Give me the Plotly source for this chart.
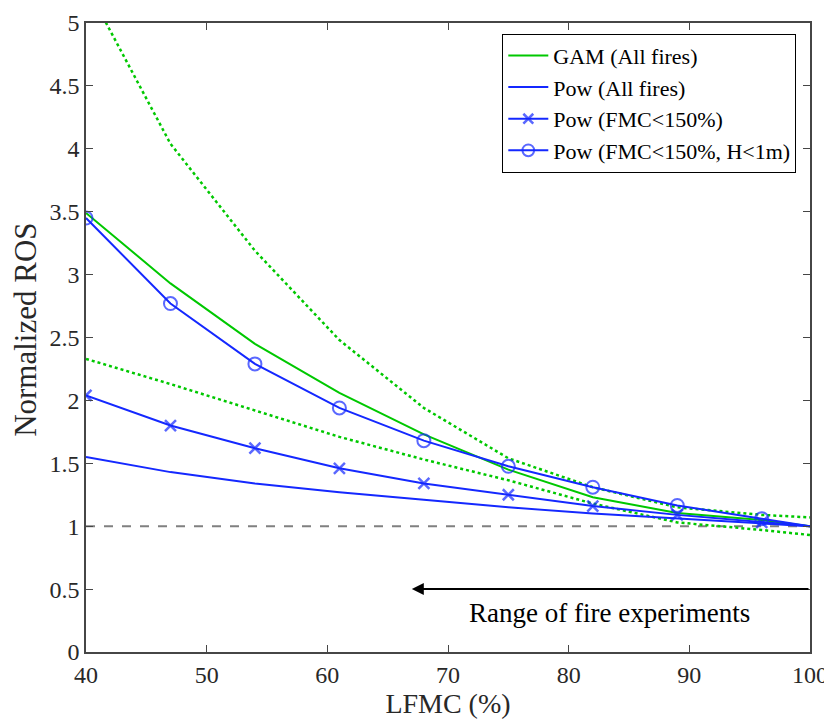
import plotly.graph_objects as go

lfmc = [40, 47, 54, 61, 68, 75, 82, 89, 96, 100]
gam_all = [3.49, 2.93, 2.45, 2.06, 1.73, 1.45, 1.23, 1.105, 1.05, 1.0]
gam_upper = [5.3, 4.04, 3.19, 2.48, 1.94, 1.54, 1.31, 1.15, 1.09, 1.07]
gam_lower = [2.33, 2.13, 1.92, 1.71, 1.53, 1.365, 1.18, 1.03, 0.97, 0.93]
pow_all = [1.55, 1.43, 1.34, 1.27, 1.21, 1.15, 1.10, 1.06, 1.02, 1.0]
pow_fmc150 = [2.04, 1.80, 1.62, 1.46, 1.34, 1.25, 1.16, 1.09, 1.03, 1.0]
pow_fmc150_h1 = [3.45, 2.77, 2.29, 1.94, 1.68, 1.476, 1.31, 1.165, 1.06, 1.0]

ref_x = [40, 100]
ref_y = [1, 1]
arrow_start, arrow_end, arrow_y = 100, 67, 0.5
note_text = "Range of fire experiments"
note_x, note_y = 83.4, 0.31

GREEN = "rgb(0,200,0)"
BLUE = "rgb(20,40,255)"
FONT = "Liberation Serif"

msize_o = [13] * 9 + [0]
msize_x = [11] * 9 + [0]

fig = go.Figure()
fig.add_trace(go.Scatter(x=ref_x, y=ref_y, mode="lines", showlegend=False,
                         line=dict(color="rgb(128,128,128)", width=2, dash="dash")))
fig.add_trace(go.Scatter(x=lfmc, y=gam_upper, mode="lines", showlegend=False,
                         line=dict(color=GREEN, width=2.5, dash="dot")))
fig.add_trace(go.Scatter(x=lfmc, y=gam_lower, mode="lines", showlegend=False,
                         line=dict(color=GREEN, width=2.5, dash="dot")))
fig.add_trace(go.Scatter(x=lfmc, y=gam_all, mode="lines", name="GAM (All fires)",
                         line=dict(color=GREEN, width=2)))
fig.add_trace(go.Scatter(x=lfmc, y=pow_all, mode="lines", name="Pow (All fires)",
                         line=dict(color=BLUE, width=2)))
fig.add_trace(go.Scatter(x=lfmc, y=pow_fmc150, mode="lines+markers", name="Pow (FMC<150%)",
                         line=dict(color=BLUE, width=2),
                         marker=dict(symbol="x-thin-open", size=msize_x, color=BLUE,
                                     line=dict(color=BLUE, width=2.5))))
fig.add_trace(go.Scatter(x=lfmc, y=pow_fmc150_h1, mode="lines+markers",
                         name="Pow (FMC<150%, H<1m)",
                         line=dict(color=BLUE, width=2),
                         marker=dict(symbol="circle-open", size=msize_o, color=BLUE,
                                     line=dict(color=BLUE, width=2))))

fig.add_annotation(x=arrow_end, y=arrow_y, ax=arrow_start, ay=arrow_y,
                   xref="x", yref="y", axref="x", ayref="y",
                   showarrow=True, arrowhead=2, arrowsize=1.2, arrowwidth=2,
                   arrowcolor="black", text="")
fig.add_annotation(x=note_x, y=note_y, xref="x", yref="y", showarrow=False,
                   text=note_text, font=dict(family=FONT, size=27, color="black"))
fig.add_annotation(x=-0.083, y=0.512, xref="paper", yref="paper", showarrow=False,
                   text="Normalized ROS", textangle=-90, xanchor="center", yanchor="middle",
                   font=dict(family=FONT, size=31, color="rgb(40,40,40)"))

axis_common = dict(showline=True, linecolor="rgb(70,70,70)", linewidth=1.5,
                   mirror="ticks", ticks="inside", ticklen=7, tickwidth=1,
                   tickcolor="rgb(70,70,70)", showgrid=False, zeroline=False,
                   automargin=False,
                   tickfont=dict(family=FONT, size=24, color="rgb(40,40,40)"))

fig.update_layout(
    width=824, height=714,
    margin=dict(l=78, r=22, t=15, b=70),
    paper_bgcolor="white", plot_bgcolor="white",
    font=dict(family=FONT, color="rgb(40,40,40)"),
    xaxis=dict(range=[40, 100], dtick=10,
               title=dict(text="LFMC (%)", font=dict(family=FONT, size=28), standoff=4),
               **axis_common),
    yaxis=dict(range=[0, 5], dtick=0.5, **axis_common),
    legend=dict(x=0.575, y=0.983, xanchor="left", yanchor="top",
                bgcolor="white", bordercolor="black", borderwidth=1,
                font=dict(family=FONT, size=22, color="black"),
                tracegroupgap=0, itemwidth=40),
    showlegend=True,
)

fig.write_html("out.html")
